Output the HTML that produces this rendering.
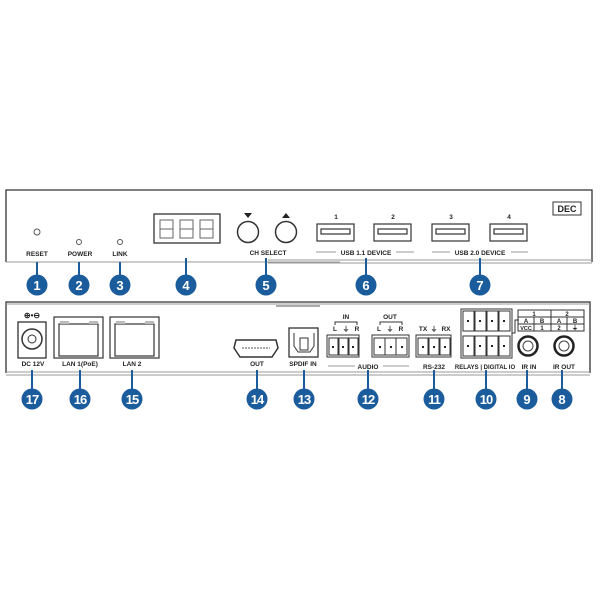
<!DOCTYPE html>
<html><head><meta charset="utf-8"><style>
html,body{margin:0;padding:0;background:#fff;}
svg{display:block;}
text{font-family:"Liberation Sans",sans-serif;font-weight:bold;fill:#222;}
.lb{font-size:6.5px;text-anchor:middle;}
.bn{font-size:13px;fill:#fff;text-anchor:middle;}
.p{fill:none;stroke:#333;stroke-width:1.3;}
.g{stroke:#999;stroke-width:1;}
.bl{stroke:#1b5d9c;stroke-width:2;}
</style></head><body>
<svg width="600" height="600" viewBox="0 0 600 600" xmlns="http://www.w3.org/2000/svg">
<!-- FRONT PANEL -->
<path d="M6,262 V190 H592 V262" class="p"/>
<line x1="6" y1="262" x2="340" y2="262" class="g"/>
<line x1="268" y1="260" x2="592" y2="260" class="g"/>
<line x1="268" y1="263" x2="592" y2="263" class="g"/>
<circle cx="37" cy="232" r="3" fill="none" stroke="#555"/>
<text class="lb" x="37" y="256">RESET</text>
<circle cx="79" cy="242" r="2.5" fill="none" stroke="#555"/>
<text class="lb" x="80" y="256">POWER</text>
<circle cx="120" cy="242" r="2.5" fill="none" stroke="#555"/>
<text class="lb" x="120" y="256">LINK</text>
<rect x="154" y="214" width="66" height="29" class="p"/>
<g fill="none" stroke="#666" stroke-width="1">
<rect x="160" y="220" width="13" height="18"/><line x1="160" y1="229" x2="173" y2="229"/>
<rect x="180" y="220" width="13" height="18"/><line x1="180" y1="229" x2="193" y2="229"/>
<rect x="200" y="220" width="13" height="18"/><line x1="200" y1="229" x2="213" y2="229"/>
</g>
<circle cx="248" cy="232" r="10.5" fill="none" stroke="#333" stroke-width="1.5"/>
<circle cx="286" cy="232" r="10.5" fill="none" stroke="#333" stroke-width="1.5"/>
<polygon points="244,213 252,213 248,218" fill="#222"/>
<polygon points="282,218 290,218 286,213" fill="#222"/>
<text class="lb" x="268" y="255">CH SELECT</text>
<g fill="none" stroke="#333" stroke-width="1.2">
<rect x="317" y="224" width="37" height="17"/><rect x="321" y="229" width="29" height="5"/>
<rect x="374" y="224" width="37" height="17"/><rect x="378" y="229" width="29" height="5"/>
<rect x="432" y="224" width="37" height="17"/><rect x="436" y="229" width="29" height="5"/>
<rect x="490" y="224" width="37" height="17"/><rect x="494" y="229" width="29" height="5"/>
</g>
<text class="lb" x="336" y="219">1</text><text class="lb" x="393" y="219">2</text>
<text class="lb" x="451" y="219">3</text><text class="lb" x="509" y="219">4</text>
<text class="lb" x="366" y="255">USB 1.1 DEVICE</text>
<text class="lb" x="480" y="255">USB 2.0 DEVICE</text>
<g class="g"><line x1="316" y1="252" x2="336" y2="252"/><line x1="396" y1="252" x2="414" y2="252"/>
<line x1="432" y1="252" x2="450" y2="252"/><line x1="511" y1="252" x2="528" y2="252"/></g>
<rect x="553" y="202" width="28" height="13" fill="none" stroke="#333"/>
<text x="567" y="212" style="font-size:9px;text-anchor:middle">DEC</text>
<!-- front badges -->
<g class="bl"><line x1="37" y1="262" x2="37" y2="280"/><line x1="79" y1="262" x2="79" y2="280"/>
<line x1="120" y1="262" x2="120" y2="280"/><line x1="186" y1="258" x2="186" y2="280"/>
<line x1="266" y1="258" x2="266" y2="280"/><line x1="366" y1="258" x2="366" y2="280"/>
<line x1="480" y1="258" x2="480" y2="280"/></g>
<g fill="#1b5d9c"><circle cx="37" cy="285" r="10.5"/><circle cx="79" cy="285" r="10.5"/><circle cx="120" cy="285" r="10.5"/>
<circle cx="186" cy="285" r="10.5"/><circle cx="266" cy="285" r="10.5"/><circle cx="366" cy="285" r="10.5"/><circle cx="480" cy="285" r="10.5"/></g>
<text class="bn" x="37" y="290">1</text><text class="bn" x="79" y="290">2</text><text class="bn" x="120" y="290">3</text>
<text class="bn" x="186" y="290">4</text><text class="bn" x="266" y="290">5</text><text class="bn" x="366" y="290">6</text><text class="bn" x="480" y="290">7</text>
<!-- REAR PANEL -->
<path d="M6,373 V302 H590 V373" class="p"/>
<line x1="6" y1="304" x2="590" y2="304" class="g"/>
<line x1="6" y1="372" x2="590" y2="372" class="g"/>
<line x1="6" y1="375" x2="590" y2="375" class="g"/>
<line x1="276" y1="306" x2="320" y2="306" stroke="#555"/>
<text x="32" y="318" style="font-size:8px;text-anchor:middle">⊕•⊖</text>
<rect x="18" y="322" width="28" height="36" class="p"/>
<circle cx="32" cy="339" r="10" fill="none" stroke="#333" stroke-width="1.5"/>
<circle cx="32" cy="339" r="4" fill="none" stroke="#333"/>
<text class="lb" x="33" y="366">DC 12V</text>
<g fill="none" stroke="#333" stroke-width="1.2"><rect x="54" y="317" width="49" height="41"/><rect x="59" y="324" width="39" height="32"/>
<rect x="110" y="317" width="49" height="41"/><rect x="115" y="324" width="39" height="32"/></g>
<g fill="#bbb"><rect x="60" y="321" width="9" height="3"/><rect x="89" y="321" width="9" height="3"/>
<rect x="116" y="321" width="9" height="3"/><rect x="145" y="321" width="9" height="3"/></g>
<text class="lb" x="80" y="366">LAN 1(PoE)</text>
<text class="lb" x="132" y="366">LAN 2</text>
<path d="M236,340 H276 L278,348 L272,357 H240 L234,348 Z" fill="none" stroke="#333" stroke-width="1.5"/>
<line x1="242" y1="348" x2="270" y2="348" stroke="#555" stroke-dasharray="2,1"/>
<text class="lb" x="257" y="366">OUT</text>
<rect x="289" y="328" width="29" height="29" class="p"/>
<path d="M294,333 V346 L298,352 H310 L314,346 V333" fill="none" stroke="#333"/>
<rect x="300" y="338" width="8" height="12" fill="none" stroke="#333"/>
<text class="lb" x="303" y="366">SPDIF IN</text>
<g fill="none" stroke="#333">
<rect x="327" y="335" width="32" height="22"/><rect x="329" y="338" width="9" height="17"/><rect x="339" y="338" width="9" height="17"/><rect x="349" y="338" width="9" height="17"/>
<rect x="372" y="335" width="37" height="22"/><rect x="374" y="338" width="11" height="17"/><rect x="385" y="338" width="11" height="17"/><rect x="396" y="338" width="11" height="17"/>
<rect x="416" y="335" width="35" height="22"/><rect x="418" y="338" width="10" height="17"/><rect x="429" y="338" width="10" height="17"/><rect x="440" y="338" width="10" height="17"/>
<path d="M335,325 V322 H357 V325 M380,325 V322 H402 V325"/>
</g>
<g fill="#222"><rect x="332" y="346" width="2" height="2"/><rect x="342" y="346" width="2" height="2"/><rect x="352" y="346" width="2" height="2"/>
<rect x="379" y="346" width="2" height="2"/><rect x="390" y="346" width="2" height="2"/><rect x="401" y="346" width="2" height="2"/>
<rect x="422" y="346" width="2" height="2"/><rect x="433" y="346" width="2" height="2"/><rect x="444" y="346" width="2" height="2"/></g>
<text class="lb" x="346" y="319">IN</text><text class="lb" x="390" y="319">OUT</text>
<text class="lb" x="335" y="331">L</text><text class="lb" x="346" y="331">⏚</text><text class="lb" x="357" y="331">R</text>
<text class="lb" x="379" y="331">L</text><text class="lb" x="390" y="331">⏚</text><text class="lb" x="401" y="331">R</text>
<text class="lb" x="423" y="331">TX</text><text class="lb" x="434" y="331">⏚</text><text class="lb" x="446" y="331">RX</text>
<text class="lb" x="368" y="369">AUDIO</text>
<g class="g"><line x1="328" y1="366" x2="355" y2="366"/><line x1="383" y1="366" x2="409" y2="366"/></g>
<text class="lb" x="434" y="369">RS-232</text>
<g fill="none" stroke="#333">
<rect x="461" y="309" width="51" height="49"/>
<rect x="463" y="311" width="11" height="20"/><rect x="475" y="311" width="11" height="20"/><rect x="487" y="311" width="11" height="20"/><rect x="499" y="311" width="11" height="20"/>
<rect x="463" y="336" width="11" height="20"/><rect x="475" y="336" width="11" height="20"/><rect x="487" y="336" width="11" height="20"/><rect x="499" y="336" width="11" height="20"/>
<path d="M512,333 H515 V320 H519"/>
<rect x="518" y="310" width="66" height="21"/>
<line x1="518" y1="317" x2="584" y2="317"/><line x1="518" y1="324" x2="584" y2="324"/>
<line x1="551" y1="310" x2="551" y2="331"/>
<line x1="534" y1="317" x2="534" y2="331"/><line x1="567" y1="317" x2="567" y2="331"/>
</g>
<g fill="#222"><rect x="467" y="320" width="2" height="2"/><rect x="479" y="320" width="2" height="2"/><rect x="491" y="320" width="2" height="2"/><rect x="503" y="320" width="2" height="2"/>
<rect x="467" y="345" width="2" height="2"/><rect x="479" y="345" width="2" height="2"/><rect x="491" y="345" width="2" height="2"/><rect x="503" y="345" width="2" height="2"/></g>
<text class="lb" x="534" y="316" style="font-size:6px">1</text><text class="lb" x="567" y="316" style="font-size:6px">2</text>
<text class="lb" x="526" y="323" style="font-size:6px">A</text><text class="lb" x="542" y="323" style="font-size:6px">B</text>
<text class="lb" x="559" y="323" style="font-size:6px">A</text><text class="lb" x="575" y="323" style="font-size:6px">B</text>
<text class="lb" x="526" y="330" style="font-size:5.5px">VCC</text><text class="lb" x="542" y="330" style="font-size:6px">1</text>
<text class="lb" x="559" y="330" style="font-size:6px">2</text><text class="lb" x="575" y="330" style="font-size:6px">⏚</text>
<text class="lb" x="485" y="369" style="font-size:6px">RELAYS | DIGITAL IO</text>
<circle cx="528" cy="346" r="9.5" fill="none" stroke="#222" stroke-width="2.5"/><circle cx="528" cy="346" r="5" fill="none" stroke="#444"/>
<circle cx="564" cy="346" r="9.5" fill="none" stroke="#222" stroke-width="2.5"/><circle cx="564" cy="346" r="5" fill="none" stroke="#444"/>
<text class="lb" x="529" y="369">IR IN</text><text class="lb" x="564" y="369">IR OUT</text>
<!-- rear badges -->
<g class="bl"><line x1="32" y1="370" x2="32" y2="392"/><line x1="80" y1="370" x2="80" y2="392"/><line x1="132" y1="370" x2="132" y2="392"/>
<line x1="257" y1="370" x2="257" y2="392"/><line x1="304" y1="370" x2="304" y2="392"/><line x1="368" y1="370" x2="368" y2="392"/>
<line x1="434" y1="370" x2="434" y2="392"/><line x1="486" y1="370" x2="486" y2="392"/><line x1="527" y1="370" x2="527" y2="392"/><line x1="562" y1="370" x2="562" y2="392"/></g>
<g fill="#1b5d9c"><circle cx="32" cy="399" r="10.5"/><circle cx="80" cy="399" r="10.5"/><circle cx="132" cy="399" r="10.5"/>
<circle cx="257" cy="399" r="10.5"/><circle cx="304" cy="399" r="10.5"/><circle cx="368" cy="399" r="10.5"/><circle cx="434" cy="399" r="10.5"/>
<circle cx="486" cy="399" r="10.5"/><circle cx="527" cy="399" r="10.5"/><circle cx="562" cy="399" r="10.5"/></g>
<g style="letter-spacing:-1px">
<text class="bn" x="32" y="404">17</text><text class="bn" x="80" y="404">16</text><text class="bn" x="132" y="404">15</text>
<text class="bn" x="257" y="404">14</text><text class="bn" x="304" y="404">13</text><text class="bn" x="368" y="404">12</text>
<text class="bn" x="434" y="404">11</text><text class="bn" x="486" y="404">10</text></g>
<text class="bn" x="527" y="404">9</text><text class="bn" x="562" y="404">8</text>
</svg>
</body></html>
